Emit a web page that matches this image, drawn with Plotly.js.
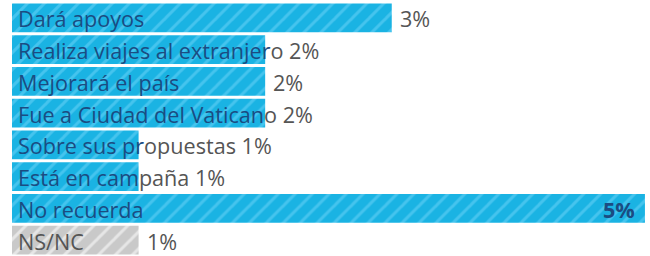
<!DOCTYPE html>
<html><head><meta charset="utf-8">
<script src="https://cdn.plot.ly/plotly-3.0.1.min.js"></script>
<style>html,body{margin:0;padding:0;background:#fff}#chart{width:650px;height:256px}</style>
</head><body><div id="chart"></div>
<script>
const categories = ["Dará apoyos","Realiza viajes al extranjero","Mejorará el país","Fue a Ciudad del Vaticano","Sobre sus propuestas","Está en campaña","No recuerda","NS/NC"];
const values = [3,2,2,2,1,1,5,1];
const valueLabels = ["3%","2%","2%","2%","1%","1%","5%","1%"];
const grayCategories = ["NS/NC"];

const W = 650, H = 256, ML = 12, MR = 0, MT = 2, MB = 0;
const XMAX = 5.04;
const FONT = "Open Sans";
const FS = 21.6;
const blue = "#1ab3e3", blueStripe = "#45c4ee";
const grey = "#c9c9c9", greyStripe = "#e6e6e6";
const navy = "#1b4c82", textGray = "#555555";

const ctx = document.createElement("canvas").getContext("2d");
function measure(t, bold) { ctx.font = (bold ? "bold " : "") + FS + "px '" + FONT + "'"; return ctx.measureText(t).width; }

const plotW = W - ML - MR;
const pxPerUnit = plotW / XMAX;
const PAD = 4, GAP = 8;

const isGray = categories.map(c => grayCategories.includes(c));
const annotations = [];
function esc(s){return s.replace(/&/g,"&amp;").replace(/</g,"&lt;");}
categories.forEach((cat, i) => {
  const barPx = values[i] * pxPerUnit;
  const inColor = isGray[i] ? textGray : navy;
  const labelW = measure(cat);
  const pct = valueLabels[i];
  let full;
  let pctSeparate = false;
  if (PAD + labelW + GAP > barPx) {
    full = cat + " " + pct;
  } else {
    full = cat;
    pctSeparate = true;
  }
  let k = 0;
  for (let j = 1; j <= full.length; j++) {
    const wPrev = measure(full.slice(0, j - 1));
    const wj = measure(full.slice(0, j));
    if (PAD + (wPrev + wj) / 2 <= barPx) k = j; else break;
  }
  const pre = full.slice(0, k), post = full.slice(k);
  let txt = "";
  if (pre) txt += '<span style="color:' + inColor + '">' + esc(pre) + '</span>';
  if (post) txt += '<span style="color:' + textGray + '">' + esc(post) + '</span>';
  annotations.push({x: 0, y: cat, xref: "x", yref: "y", xanchor: "left", yanchor: "middle",
    xshift: PAD, yshift: -1, text: txt, showarrow: false, font: {family: FONT, size: FS, color: inColor}});
  if (pctSeparate) {
    const pw = measure(pct, true);
    if (barPx + GAP + pw > plotW) {
      annotations.push({x: values[i], y: cat, xref: "x", yref: "y", xanchor: "right", yanchor: "middle",
        xshift: -GAP, yshift: -1, text: "<b>" + pct + "</b>", showarrow: false, font: {family: FONT, size: FS, color: navy}});
    } else {
      annotations.push({x: values[i], y: cat, xref: "x", yref: "y", xanchor: "left", yanchor: "middle",
        xshift: GAP - 2, yshift: -1, text: pct, showarrow: false, font: {family: FONT, size: FS, color: textGray}});
    }
  }
});

function barTrace(sel, color, stripe) {
  const idx = categories.map((c, i) => i).filter(sel);
  return {
    type: "bar", orientation: "h",
    x: idx.map(i => values[i]), y: idx.map(i => categories[i]),
    marker: {color: color, line: {width: 0},
      pattern: {shape: "/", fgcolor: stripe, fgopacity: 1, size: 12, solidity: 0.25, fillmode: "overlay"}},
    hoverinfo: "skip", textposition: "none"
  };
}
const traces = [
  barTrace(i => !isGray[i], blue, blueStripe),
  barTrace(i => isGray[i], grey, greyStripe)
];

const layout = {
  width: W, height: H, margin: {l: ML, r: MR, t: MT, b: MB, pad: 0},
  paper_bgcolor: "#fff", plot_bgcolor: "#fff",
  barmode: "overlay", bargap: 0.09, showlegend: false,
  xaxis: {range: [0, XMAX], visible: false, fixedrange: true},
  yaxis: {type: "category", categoryorder: "array", categoryarray: categories, range: [categories.length - 0.5, -0.5], visible: false, fixedrange: true},
  annotations: annotations,
  font: {family: FONT}
};
Plotly.newPlot("chart", traces, layout, {displayModeBar: false, staticPlot: true});
</script></body></html>
